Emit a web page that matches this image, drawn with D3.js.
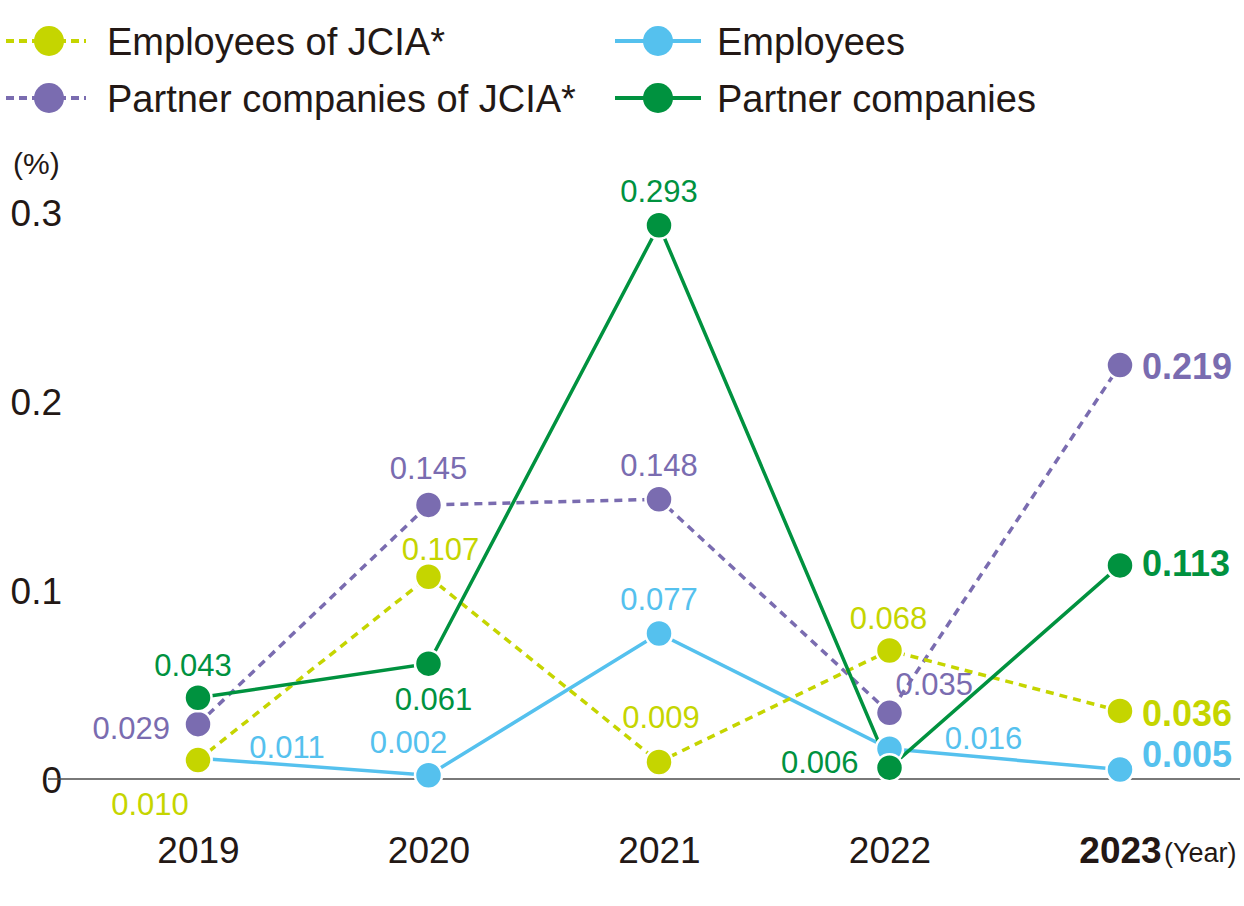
<!DOCTYPE html>
<html><head><meta charset="utf-8">
<script src="https://cdn.jsdelivr.net/npm/d3@7"></script>
<style>body{margin:0;background:#fff}svg{display:block;font-family:"Liberation Sans",Arial,sans-serif}</style>
</head><body><div id="chart"></div>
<script>
const years = ["2019","2020","2021","2022","2023"];
const yTicks = [0, 0.1, 0.2, 0.3];
const yTickLabels = ["0", "0.1", "0.2", "0.3"];
const employeesJCIA = [0.010, 0.107, 0.009, 0.068, 0.036];
const partnersJCIA = [0.029, 0.145, 0.148, 0.035, 0.219];
const employees = [0.011, 0.002, 0.077, 0.016, 0.005];
const partners = [0.043, 0.061, 0.293, 0.006, 0.113];
const seriesNames = ["Employees of JCIA*", "Partner companies of JCIA*", "Employees", "Partner companies"];

const W = 1244, H = 906;
const svg = d3.select("#chart").append("svg").attr("width", W).attr("height", H);

const x = d3.scalePoint().domain(years).range([198, 1120]);
const y = d3.scaleLinear().domain([0, 0.3]).range([779, 212]);

const colors = {ey: "#c5d500", pj: "#7a6cb0", e: "#55c1ee", p: "#00923f"};

// label offsets [dx, dy, anchor]
const offsEY = [[-48,55,"middle"],[12,-17,"middle"],[2,-34,"middle"],[-1,-21,"middle"],[22,15,"start"]];
const offsPJ = [[-28,15,"end"],[0,-26,"middle"],[0,-23,"middle"],[6,-18,"start"],[22,14,"start"]];
const offsE  = [[89,0,"middle"],[-20,-22,"middle"],[0,-23,"middle"],[94,0,"middle"],[22,-3,"start"]];
const offsP  = [[-5,-22,"middle"],[5,46,"middle"],[0,-23,"middle"],[-31,5,"end"],[22,11,"start"]];

const series = [
  {name: seriesNames[2], vals: employees, color: colors.e, dash: null, offs: offsE},
  {name: seriesNames[1], vals: partnersJCIA, color: colors.pj, dash: "8,6", offs: offsPJ},
  {name: seriesNames[0], vals: employeesJCIA, color: colors.ey, dash: "8,6", offs: offsEY},
  {name: seriesNames[3], vals: partners, color: colors.p, dash: null, offs: offsP}
];

// y-axis tick labels
const yAxis = d3.axisLeft(y).tickValues(yTicks).tickFormat((d,i)=>yTickLabels[i]).tickSize(0).tickPadding(0);
const ga = svg.append("g").attr("transform","translate(62,0)").call(yAxis);
ga.select(".domain").remove();
ga.selectAll("text").attr("font-size",37).attr("fill","#231815").attr("font-family",'"Liberation Sans",Arial,sans-serif').attr("dy","0.36em");

svg.append("text").attr("x",13).attr("y",174).attr("font-size",30).attr("fill","#231815").text("(%)");

// baseline
svg.append("line").attr("x1",48).attr("x2",1240).attr("y1",y(0)).attr("y2",y(0)).attr("stroke","#4d4d4d").attr("stroke-width",1.6);

// x axis labels
const xAxis = d3.axisBottom(x).tickSize(0).tickPadding(0);
const gx = svg.append("g").attr("transform","translate(0,835)").call(xAxis);
gx.select(".domain").remove();
gx.selectAll("text").attr("font-size",37).attr("fill","#231815").attr("font-family",'"Liberation Sans",Arial,sans-serif')
  .attr("dy","0.75em").attr("font-weight",d=>d==="2023"?"bold":"normal");
svg.append("text").attr("x",1164).attr("y",862).attr("font-size",27).attr("fill","#231815").text("(Year)");

// lines
const line = d3.line().x((d,i)=>x(years[i])).y(d=>y(d));
series.forEach(s=>{
  svg.append("path").datum(s.vals).attr("d",line).attr("fill","none")
    .attr("stroke",s.color).attr("stroke-width",3.5).attr("stroke-dasharray",s.dash);
});
// markers
series.forEach(s=>{
  svg.append("g").selectAll("circle").data(s.vals).join("circle")
    .attr("cx",(d,i)=>x(years[i])).attr("cy",d=>y(d)).attr("r",13.5)
    .attr("fill",s.color).attr("stroke","#fff").attr("stroke-width",2.5);
});
// labels
series.forEach(s=>{
  svg.append("g").selectAll("text").data(s.vals).join("text")
    .attr("x",(d,i)=>x(years[i])+s.offs[i][0]).attr("y",(d,i)=>y(d)+s.offs[i][1])
    .attr("text-anchor",(d,i)=>s.offs[i][2])
    .attr("font-size",(d,i)=>i===4?36:31).attr("font-weight",(d,i)=>i===4?"bold":"normal")
    .attr("fill",s.color).text(d=>d.toFixed(3));
});

// legend
const legend = [
  {name: seriesNames[0], color: colors.ey, dash: true, x: 6, y: 41},
  {name: seriesNames[1], color: colors.pj, dash: true, x: 6, y: 98},
  {name: seriesNames[2], color: colors.e, dash: false, x: 615, y: 41},
  {name: seriesNames[3], color: colors.p, dash: false, x: 615, y: 98}
];
legend.forEach(l=>{
  const g = svg.append("g");
  if (l.dash) {
    g.append("line").attr("x1",l.x).attr("x2",l.x+80).attr("y1",l.y).attr("y2",l.y)
      .attr("stroke",l.color).attr("stroke-width",4).attr("stroke-dasharray","8,5");
    g.append("circle").attr("cx",l.x+43).attr("cy",l.y).attr("r",15).attr("fill",l.color);
    g.append("text").attr("x",l.x+101).attr("y",l.y+14).attr("font-size",38).attr("fill","#231815").text(l.name);
  } else {
    g.append("line").attr("x1",l.x).attr("x2",l.x+86).attr("y1",l.y).attr("y2",l.y)
      .attr("stroke",l.color).attr("stroke-width",4);
    g.append("circle").attr("cx",l.x+43).attr("cy",l.y).attr("r",15).attr("fill",l.color);
    g.append("text").attr("x",l.x+102).attr("y",l.y+14).attr("font-size",38).attr("fill","#231815").text(l.name);
  }
});
</script></body></html>
